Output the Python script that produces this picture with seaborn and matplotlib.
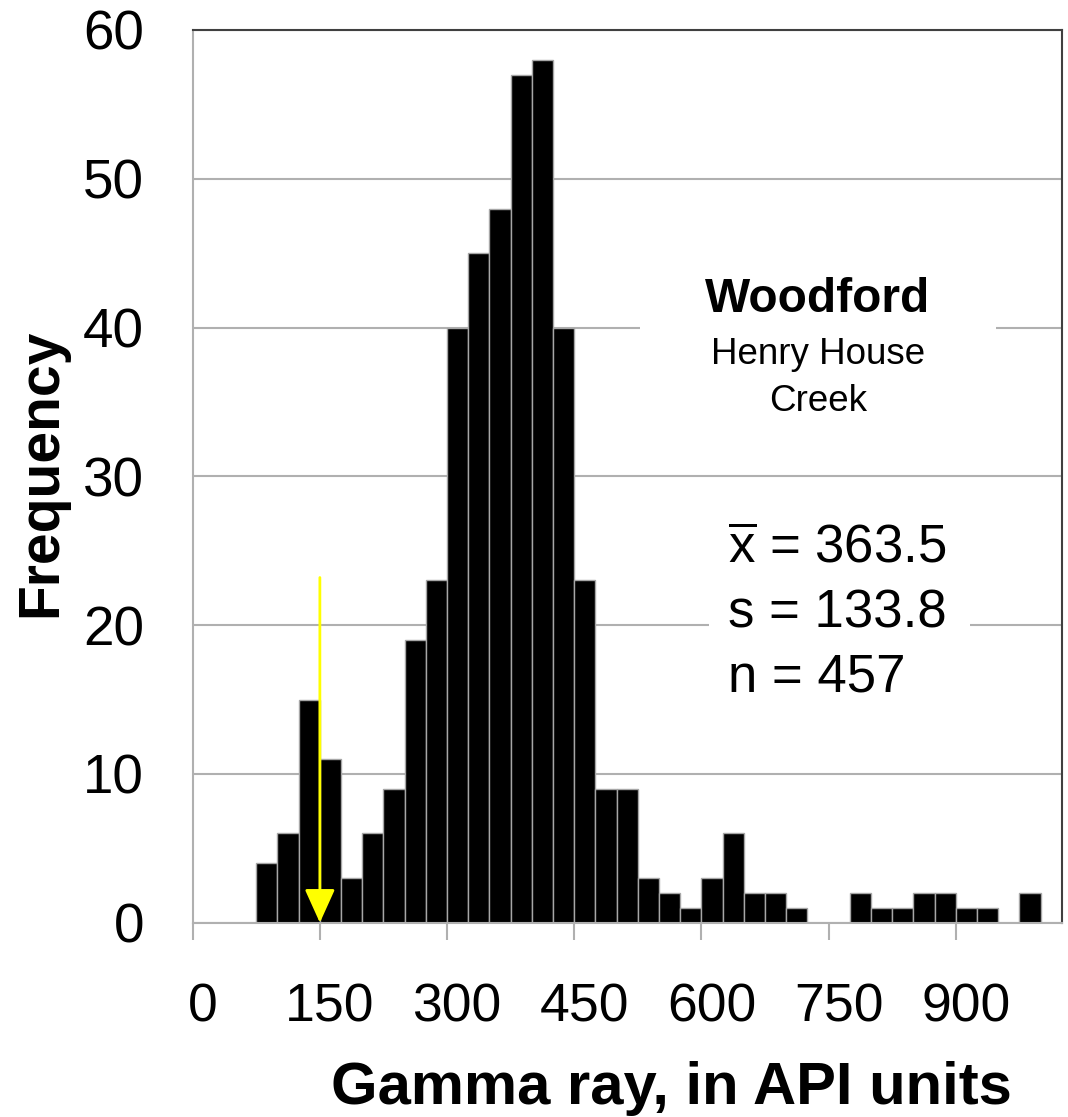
import numpy as np
import matplotlib
matplotlib.use("Agg")
import matplotlib.pyplot as plt
import matplotlib.transforms as mtransforms
from matplotlib.patches import Rectangle
import seaborn as sns

# Gamma-ray histogram, 25 API-unit bins (left edges) and counts
bin_left = list(range(75, 1000, 25))
counts = [4, 6, 15, 11, 3, 6, 9, 19, 23, 40, 45, 48, 57, 58, 40, 23, 9, 9,
          3, 2, 1, 3, 6, 2, 2, 1, 0, 0, 2, 1, 1, 2, 2, 1, 1, 0, 2]
bin_width = 25
x_ticks = [0, 150, 300, 450, 600, 750, 900]
y_ticks = [0, 10, 20, 30, 40, 50, 60]
marker_value = 150
marker_top = 23.2

title_main = "Woodford"
title_sub = ["Henry House", "Creek"]
stats_lines = [r"$\overline{\mathrm{x}}$ = 363.5", "s = 133.8", "n = 457"]

sns.set_style("white")
plt.rcParams["font.family"] = ["Liberation Sans", "DejaVu Sans"]
plt.rcParams["mathtext.fontset"] = "custom"
plt.rcParams["mathtext.rm"] = "Liberation Sans"
plt.rcParams["mathtext.it"] = "Liberation Sans:italic"
plt.rcParams["text.color"] = "black"
plt.rcParams["axes.labelcolor"] = "black"
plt.rcParams["xtick.color"] = "black"
plt.rcParams["ytick.color"] = "black"

W, H, DPI = 1068, 1117, 100
fig = plt.figure(figsize=(W / DPI, H / DPI), dpi=DPI)
ax = fig.add_axes([192.7 / W, 1 - 922.7 / H, (1061.7 - 192.7) / W, (922.7 - 30) / H])

centers = [b + bin_width / 2 for b in bin_left]
sns.histplot(x=centers, weights=counts, binwidth=bin_width, binrange=(75, 1000),
             color="black", edgecolor="#a6a6a6", linewidth=1.0, alpha=1.0,
             ax=ax, zorder=2)

ax.set_xlim(0, 1025)
ax.set_ylim(0, 60)
ax.set_xticks(x_ticks)
ax.set_yticks(y_ticks)
ax.set_xlabel("")
ax.set_ylabel("")

grid_c = "#b0b0b0"
ax.set_axisbelow(True)
ax.grid(axis="y", color=grid_c, linewidth=1.5)
ax.grid(axis="x", visible=False)

for side in ("left", "bottom"):
    ax.spines[side].set_color(grid_c)
    ax.spines[side].set_linewidth(1.5)
for side in ("top", "right"):
    ax.spines[side].set_color("#404040")
    ax.spines[side].set_linewidth(1.5)
    ax.spines[side].set_visible(True)

ax.tick_params(axis="x", direction="out", length=12, width=1.5, color=grid_c,
               pad=31, labelsize=38.5, labelcolor="black")
ax.tick_params(axis="y", length=0, pad=35, labelsize=39.5, labelcolor="black")
ax.xaxis.set_ticks_position("bottom")

# shift x tick labels slightly right
shift = mtransforms.ScaledTranslation(10 / DPI, 0, fig.dpi_scale_trans)
for lab in ax.get_xticklabels():
    lab.set_transform(lab.get_transform() + shift)

# white backgrounds behind the annotation blocks
ax.add_patch(Rectangle((528, 37.5), 419, 5, facecolor="white", edgecolor="none", zorder=1.5))
ax.add_patch(Rectangle((609, 15.5), 308, 10, facecolor="white", edgecolor="none", zorder=1.5))

def fig_xy(px, py):
    return (px / W, 1 - py / H)

fig.text(*fig_xy(817.5, 300), title_main, ha="center", va="center",
         fontsize=34.5, fontweight="bold", color="black")
fig.text(*fig_xy(818, 354), title_sub[0], ha="center", va="center",
         fontsize=26.5, color="black")
fig.text(*fig_xy(818, 402), title_sub[1], ha="center", va="center",
         fontsize=26.5, color="black")

for i, line in enumerate(stats_lines):
    fig.text(*fig_xy(728, 562.7 + 64.5 * i), line, ha="left", va="baseline",
             fontsize=38, color="black")

# yellow marker arrow
ax.annotate("", xy=(marker_value, 0), xytext=(marker_value, marker_top),
            arrowprops=dict(arrowstyle="-|>,head_width=0.47,head_length=1.04",
                            mutation_scale=20, color="#ffff00", lw=2,
                            shrinkA=0, shrinkB=0),
            zorder=5)

fig.text(*fig_xy(41, 473), "Frequency", rotation=90, ha="center", va="center",
         fontsize=41, fontweight="bold", color="black")
fig.text(*fig_xy(671, 1104), "Gamma ray, in API units", ha="center", va="baseline",
         fontsize=43, fontweight="bold", color="black")

fig.savefig("out.png", dpi=DPI)
